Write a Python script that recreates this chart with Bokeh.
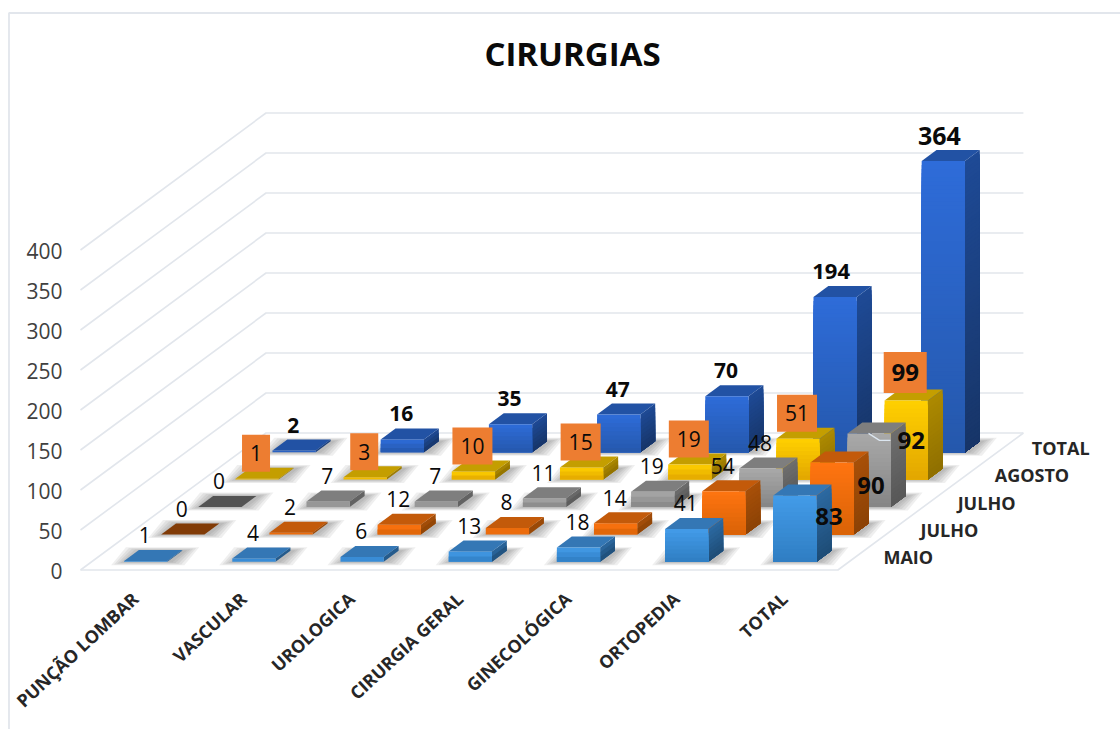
from bokeh.plotting import figure, ColumnDataSource
from bokeh.models import Range1d
from bokeh.core.properties import value
from bokeh.embed import file_html
from bokeh.resources import INLINE

# ---- data ----
title = "CIRURGIAS"
categories = ["PUNÇÃO LOMBAR", "VASCULAR", "UROLOGICA", "CIRURGIA GERAL", "GINECOLÓGICA", "ORTOPEDIA", "TOTAL"]
series_names = ["MAIO", "JULHO", "JULHO", "AGOSTO", "TOTAL"]
maio = [1, 4, 6, 13, 18, 41, 83]
julho_a = [0, 2, 12, 8, 14, 54, 90]
julho_b = [0, 7, 7, 11, 19, 48, 92]
agosto = [1, 3, 10, 15, 19, 51, 99]
total = [2, 16, 35, 47, 70, 194, 364]
ticks = [0, 50, 100, 150, 200, 250, 300, 350, 400]

rows = [maio, julho_a, julho_b, agosto, total]

# face colours: front top, front bottom, top face, side top, side bottom
palette = [
    ("#439CE9", "#2F7DC2", "#3477B5", "#2C6AA2", "#1E4C76"),
    ("#FF7511", "#D96206", "#C35A0A", "#A85008", "#8C4206"),
    ("#A9A9A9", "#858585", "#7E7E7E", "#6E6E6E", "#575757"),
    ("#FFD000", "#E2A600", "#C49E00", "#AD8A00", "#8F6F00"),
    ("#2E6CD9", "#2558AC", "#2252A4", "#1E4A96", "#173568"),
]

# ---- oblique projection of (category, depth, value) to page pixels ----
OX, OY = 80.0, 569.5
CX = 108.2      # px per category
DX, DY = 37.1, 27.4  # px per series row
VY = 0.8        # px per unit
GAP, BAR = 0.3, 0.4


def proj(c, d, v=0.0):
    return OX + c * CX + d * DX, OY - d * DY - v * VY


def hexmix(a, b, t):
    pa = [int(a[i:i + 2], 16) for i in (1, 3, 5)]
    pb = [int(b[i:i + 2], 16) for i in (1, 3, 5)]
    return "#%02x%02x%02x" % tuple(round(x + (y - x) * t) for x, y in zip(pa, pb))


def dark(col, f=0.66):
    return hexmix("#000000", col, f)


p = figure(width=1120, height=729, output_backend="svg", toolbar_location=None,
           x_range=Range1d(0, 1120), y_range=Range1d(729, 0), min_border=0,
           background_fill_color="white", border_fill_color="white", outline_line_color=None)
p.axis.visible = False
p.grid.visible = False

GRID = "#E2E6EC"
# chart border
p.line([8.5, 8.5, 1120], [729, 12.5, 12.5], line_color=GRID, line_width=1.8)

# walls and floor
nc, nr = len(categories), len(series_names)
for t in ticks:
    xs, ys = zip(proj(0, 0, t), proj(0, nr, t), proj(nc, nr, t))
    p.line(list(xs), list(ys), line_color=GRID, line_width=1.6)
xs, ys = zip(proj(0, 0), proj(nc, 0), proj(nc, nr))
p.line(list(xs), list(ys), line_color=GRID, line_width=1.6)

# soft floor shadows
sx, sy, sa = [], [], []
for r in range(nr):
    for c in range(nc):
        x0, y0 = proj(c + GAP, r + GAP)
        wd = BAR * CX
        dx, dy = BAR * DX, BAR * DY
        for e in (14, 11, 8, 5, 2):
            sx.append([x0 - e + 1, x0 + wd + e + 3, x0 + wd + dx + e + 3, x0 + dx - e + 1])
            sy.append([y0 + e * .25, y0 + e * .25, y0 - dy - e * .25, y0 - dy - e * .25])
            sa.append(0.085)
p.patches(sx, sy, fill_color="#404040", fill_alpha=sa, line_color=None)

# bars, back row first; each gradient band runs to the bar's foot so no seams appear
fx, fy, fc = [], [], []


def add(xs, ys, col):
    fx.append(xs)
    fy.append(ys)
    fc.append(col)


for r in range(nr - 1, -1, -1):
    ftop, fbot, topc, stop, sbot = palette[r]
    for c in range(nc):
        v = rows[r][c]
        topc_use = dark(topc) if v == 0 else topc
        x0, y0 = proj(c + GAP, r + GAP)
        x1, _ = proj(c + GAP + BAR, r + GAP)
        dx, dy = BAR * DX, BAR * DY
        ht = v * VY
        n = max(1, int(ht / 4))
        for i in range(n):
            a = ht * (1 - i / n)
            add([x1, x1 + dx, x1 + dx, x1], [y0 - a, y0 - a - dy, y0 - dy, y0], hexmix(stop, sbot, (i + .5) / n))
        add([x0, x1, x1 + dx, x0 + dx], [y0 - ht, y0 - ht, y0 - ht - dy, y0 - ht - dy], topc_use)
        for i in range(n):
            a = ht * (1 - i / n)
            add([x0, x1, x1, x0], [y0 - a, y0 - a, y0, y0], hexmix(ftop, fbot, (i + .5) / n))
p.patches(fx, fy, fill_color=fc, line_color=None)

# leader line on the grey total bar
lx0, ly0 = proj(6 + GAP, 2 + GAP, julho_b[6])
p.line([lx0 + 21, lx0 + 32, lx0 + 43], [ly0, ly0 + 7, ly0 + 7], line_color="#DCE6F0", line_width=1.2)

# data labels
FONT = value("Open Sans")
# label shifts of the last column (drawn beside the bar rather than above it)
total_shift = [(35, 21), (40, 23), (43, 7), (0, -28), (-3, -25)]
lab = {k: [] for k in "x y t s w".split()}
boxes = {k: [] for k in "l r t b".split()}
for r in range(nr):
    for c in range(nc):
        v = rows[r][c]
        xm, y0 = proj(c + GAP + BAR / 2, r + GAP, v)
        big = c == nc - 1
        sxx, syy = total_shift[r] if big else (0, -25.5)
        if r == nr - 1 and c == nc - 2:
            sxx = -3
        x, y = xm + sxx - 1, y0 + syy
        if big:
            size = "25px" if r == nr - 1 else "24px"
        elif r == nr - 1:
            size = "22px" if c == nc - 2 else "21px"
        else:
            size = "21px"
        weight = "bold" if r == nr - 1 or big else "normal"
        if r == 3:
            w = 43 if big else {1: 28, 2: 40}[len(str(v))]
            h = 41 if big else 37
            boxes["l"].append(x - w / 2)
            boxes["r"].append(x + w / 2)
            boxes["t"].append(y - h / 2)
            boxes["b"].append(y + h / 2)
        lab["x"].append(x)
        lab["y"].append(y)
        lab["t"].append(str(v))
        lab["s"].append(size)
        lab["w"].append(weight)
p.quad(left=boxes["l"], right=boxes["r"], top=boxes["t"], bottom=boxes["b"], fill_color="#ED7D31", line_color=None)
src = ColumnDataSource(dict(x=lab["x"], y=lab["y"], t=lab["t"], s=lab["s"], w=lab["w"]))
p.text(x="x", y="y", text="t", text_font=FONT, text_font_size="s", text_font_style="w", text_color="#0A0A0A",
       text_align="center", text_baseline="middle", source=src)

# value ticks
vx, vy = zip(*[proj(0, 0, t) for t in ticks])
p.text(x=[a - 18 for a in vx], y=[b + 1 for b in vy], text=[str(t) for t in ticks], text_font=FONT,
       text_font_size="21px", text_color="#404040", text_align="right", text_baseline="middle")

# category labels
cx, cy = zip(*[proj(c + GAP + BAR / 2, 0) for c in range(nc)])
p.text(x=[a + 0.5 for a in cx], y=[b + 25.5 for b in cy], text=categories, text_font=FONT, text_font_style="bold",
       text_font_size="17.8px", text_color="#262626", text_align="right", text_baseline="middle", angle=43, angle_units="deg")

# series labels
rx, ry = zip(*[proj(nc, d + .5) for d in range(nr)])
p.text(x=[a + 27 for a in rx], y=[b + 1 for b in ry], text=series_names, text_font=FONT, text_font_style="bold",
       text_font_size="18px", text_color="#262626", text_align="left", text_baseline="middle")

# title
p.text(x=[572], y=[53], text=[title], text_font=FONT, text_font_style="bold", text_font_size="33px",
       text_color="#0A0A0A", text_align="center", text_baseline="middle")

open("out.html", "w").write(file_html(p, INLINE))
